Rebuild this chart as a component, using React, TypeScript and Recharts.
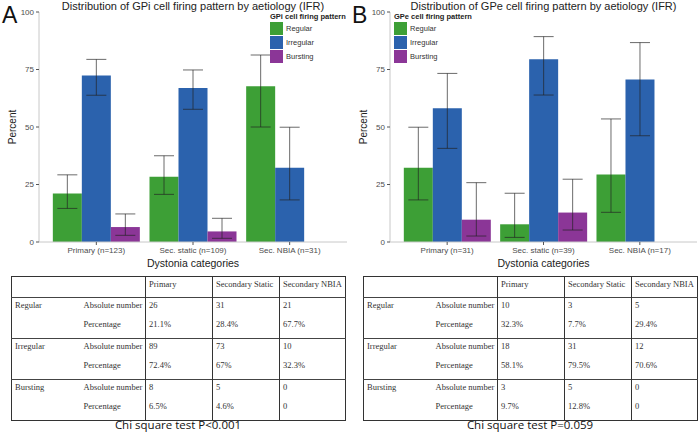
import React from 'react';
import { BarChart, Bar, XAxis, YAxis, ErrorBar, Legend } from 'recharts';

// Panel A (GPi)
const categoriesA = ['Primary (n=123)', 'Sec. static (n=109)', 'Sec. NBIA (n=31)'];
const regularA = [21.1, 28.4, 67.7];
const irregularA = [72.4, 67, 32.3];
const burstingA = [6.5, 4.6, 0];
const regularLowA = [14.6, 20.7, 50.0];
const regularHighA = [29.2, 37.5, 81.3];
const irregularLowA = [63.8, 57.7, 18.3];
const irregularHighA = [79.4, 74.8, 49.9];
const burstingLowA = [2.9, 1.6, 0];
const burstingHighA = [12.2, 10.3, 13.2];

// Panel B (GPe)
const categoriesB = ['Primary (n=31)', 'Sec. static (n=39)', 'Sec. NBIA (n=17)'];
const regularB = [32.3, 7.7, 29.4];
const irregularB = [58.1, 79.5, 70.6];
const burstingB = [9.7, 12.8, 0];
const regularLowB = [18.3, 2.0, 12.9];
const regularHighB = [49.9, 21.2, 53.5];
const irregularLowB = [40.7, 63.9, 46.2];
const irregularHighB = [73.3, 89.3, 86.7];
const burstingLowB = [2.6, 5.2, 0];
const burstingHighB = [25.8, 27.3, 21.9];

const yTicks = [0, 25, 50, 75, 100];

// table contents
const tableHeaders = ['Primary', 'Secondary Static', 'Secondary NBIA'];
const patterns = ['Regular', 'Irregular', 'Bursting'];
const regularCountA = ['26', '31', '21'];
const regularPctA = ['21.1%', '28.4%', '67.7%'];
const irregularCountA = ['89', '73', '10'];
const irregularPctA = ['72.4%', '67%', '32.3%'];
const burstingCountA = ['8', '5', '0'];
const burstingPctA = ['6.5%', '4.6%', '0'];
const regularCountB = ['10', '3', '5'];
const regularPctB = ['32.3%', '7.7%', '29.4%'];
const irregularCountB = ['18', '31', '12'];
const irregularPctB = ['58.1%', '79.5%', '70.6%'];
const burstingCountB = ['3', '5', '0'];
const burstingPctB = ['9.7%', '12.8%', '0'];

const COLORS = ['#3d9f36', '#2b62ad', '#8b3697'];
const KEYS = ['reg', 'irr', 'bur'];

const buildData = (cats, reg, irr, bur, rl, rh, il, ih, bl, bh) =>
  cats.map((cat, i) => ({
    cat,
    reg: reg[i],
    irr: irr[i],
    bur: bur[i],
    regErr: [reg[i] - rl[i], rh[i] - reg[i]],
    irrErr: [irr[i] - il[i], ih[i] - irr[i]],
    burErr: [bur[i] - bl[i], bh[i] - bur[i]],
  }));

const dataA = buildData(categoriesA, regularA, irregularA, burstingA, regularLowA, regularHighA, irregularLowA, irregularHighA, burstingLowA, burstingHighA);
const dataB = buildData(categoriesB, regularB, irregularB, burstingB, regularLowB, regularHighB, irregularLowB, irregularHighB, burstingLowB, burstingHighB);

const legendContent = (title: string) => () => (
  <div style={{ fontFamily: 'Liberation Sans, Arial, sans-serif', color: '#222' }}>
    <div style={{ fontSize: 7.5, fontWeight: 'bold', whiteSpace: 'nowrap', lineHeight: '9px' }}>{title}</div>
    {patterns.map((p, i) => (
      <div key={p} style={{ display: 'flex', alignItems: 'center', height: 14 }}>
        <div style={{ width: 13, height: 13, background: COLORS[i], marginRight: 3 }} />
        <span style={{ fontSize: 7.5, color: '#333' }}>{p}</span>
      </div>
    ))}
  </div>
);

const BarPanel = ({ data, title, letter, legendTitle, legendLeft, yWidth }) => (
  <div style={{ position: 'absolute', left: 0, top: 0, width: 350, height: 270 }}>
    <BarChart
      width={350}
      height={270}
      data={data}
      margin={{ top: 12, right: 3, left: 0, bottom: 0 }}
      barCategoryGap="5%"
      barGap={0}
    >
      <XAxis
        dataKey="cat"
        height={28}
        padding={{ left: 9, right: 9 }}
        tick={{ fontSize: 8, fill: '#4d4d4d' }}
        tickSize={3}
        tickMargin={2}
        tickLine={{ stroke: '#555' }}
        axisLine={{ stroke: '#c8c8c8' }}
        interval={0}
        label={{ value: 'Dystonia categories', position: 'insideBottom', offset: 3, fontSize: 10.5, fill: '#222' }}
      />
      <XAxis xAxisId="top" dataKey="cat" orientation="top" height={0} tick={false} tickLine={false} axisLine={{ stroke: '#c8c8c8' }} />
      <YAxis
        width={yWidth}
        domain={[0, 100]}
        ticks={yTicks}
        tick={{ fontSize: 8, fill: '#4d4d4d' }}
        tickSize={3}
        tickMargin={2}
        tickLine={{ stroke: '#555' }}
        axisLine={{ stroke: '#c8c8c8' }}
        label={{ value: 'Percent', angle: -90, position: 'center', dx: -7, fontSize: 10, fill: '#222' }}
      />
      <YAxis yAxisId="right" orientation="right" width={0} domain={[0, 100]} tick={false} tickLine={false} axisLine={{ stroke: '#c8c8c8' }} />
      {KEYS.map((k, i) => (
        <Bar key={k} dataKey={k} name={patterns[i]} fill={COLORS[i]} isAnimationActive={false}>
          <ErrorBar dataKey={`${k}Err`} width={10} stroke="#222" strokeOpacity={0.75} strokeWidth={0.9} />
        </Bar>
      ))}
      <Legend
        layout="horizontal"
        verticalAlign="middle"
        align="center"
        content={legendContent(legendTitle)}
        wrapperStyle={{ position: 'absolute', top: 12, left: legendLeft, width: 90, height: 54 }}
      />
    </BarChart>
    <div
      style={{
        position: 'absolute',
        top: 0,
        left: yWidth,
        width: 347 - yWidth,
        textAlign: 'center',
        fontSize: 11,
        lineHeight: '12px',
        color: '#222',
        whiteSpace: 'nowrap',
        fontFamily: 'Liberation Sans, Arial, sans-serif',
      }}
    >
      {title}
    </div>
    <div style={{ position: 'absolute', top: 2, left: 2, fontSize: 23, color: '#111', fontFamily: 'Liberation Sans, Arial, sans-serif' }}>
      {letter}
    </div>
  </div>
);

const cellBase: React.CSSProperties = {
  padding: '1px 0 0 3px',
  verticalAlign: 'top',
  height: 18,
  lineHeight: '10px',
  textAlign: 'left',
};

const DataTable = ({ rows }) => {
  const colW = [69, 65, 67, 67, 66];
  return (
    <table
      style={{
        borderCollapse: 'collapse',
        width: 334,
        tableLayout: 'fixed',
        fontFamily: 'Liberation Serif, Times New Roman, serif',
        fontSize: 8.5,
        color: '#333',
        border: '1px solid #333',
      }}
    >
      <colgroup>
        {colW.map((w, i) => (
          <col key={i} style={{ width: w }} />
        ))}
      </colgroup>
      <tbody>
        <tr>
          <td colSpan={2} style={{ ...cellBase, paddingTop: 2 }} />
          {tableHeaders.map((h) => (
            <td key={h} style={{ ...cellBase, paddingTop: 2, borderLeft: '1px solid #333', whiteSpace: 'nowrap' }}>
              {h}
            </td>
          ))}
        </tr>
        {rows.map((r, gi) => (
          <React.Fragment key={gi}>
            <tr>
              <td rowSpan={2} style={{ ...cellBase, borderTop: '1.5px solid #444', paddingTop: 2 }}>{patterns[gi]}</td>
              <td style={{ ...cellBase, borderTop: '1.5px solid #444', paddingTop: 2, whiteSpace: 'nowrap' }}>Absolute number</td>
              {r.counts.map((v, j) => (
                <td key={j} style={{ ...cellBase, borderTop: '1.5px solid #444', paddingTop: 2, borderLeft: '1px solid #333' }}>{v}</td>
              ))}
            </tr>
            <tr>
              <td style={{ ...cellBase, height: 19 }}>Percentage</td>
              {r.pcts.map((v, j) => (
                <td key={j} style={{ ...cellBase, height: 19, borderLeft: '1px solid #333' }}>{v}</td>
              ))}
            </tr>
          </React.Fragment>
        ))}
      </tbody>
    </table>
  );
};

const rowsA = [
  { counts: regularCountA, pcts: regularPctA },
  { counts: irregularCountA, pcts: irregularPctA },
  { counts: burstingCountA, pcts: burstingPctA },
];
const rowsB = [
  { counts: regularCountB, pcts: regularPctB },
  { counts: irregularCountB, pcts: irregularPctB },
  { counts: burstingCountB, pcts: burstingPctB },
];

const chiStyle: React.CSSProperties = {
  position: 'absolute',
  width: 334,
  top: 418,
  textAlign: 'center',
  fontSize: 11.5,
  lineHeight: '14px',
  color: '#111',
  fontFamily: 'Open Sans, sans-serif',
};

export default function App() {
  return (
    <div
      style={{
        position: 'fixed',
        left: 0,
        top: 0,
        width: 700,
        height: 433,
        background: '#fff',
        overflow: 'hidden',
        fontFamily: 'Liberation Sans, Arial, sans-serif',
      }}
    >
      <div style={{ position: 'absolute', left: 0, top: 0, width: 350, height: 270 }}>
        <BarPanel
          data={dataA}
          title="Distribution of GPi cell firing pattern by aetiology (IFR)"
          letter="A"
          legendTitle="GPi cell firing pattern"
          legendLeft={270}
          yWidth={39}
        />
      </div>
      <div style={{ position: 'absolute', left: 350, top: 0, width: 350, height: 270 }}>
        <BarPanel
          data={dataB}
          title="Distribution of GPe cell firing pattern by aetiology (IFR)"
          letter="B"
          legendTitle="GPe cell firing pattern"
          legendLeft={44}
          yWidth={40}
        />
      </div>
      <div style={{ position: 'absolute', left: 11, top: 276 }}>
        <DataTable rows={rowsA} />
      </div>
      <div style={{ position: 'absolute', left: 363, top: 276 }}>
        <DataTable rows={rowsB} />
      </div>
      <div style={{ ...chiStyle, left: 11 }}>Chi square test P&lt;0.001</div>
      <div style={{ ...chiStyle, left: 363 }}>Chi square test P=0.059</div>
    </div>
  );
}
